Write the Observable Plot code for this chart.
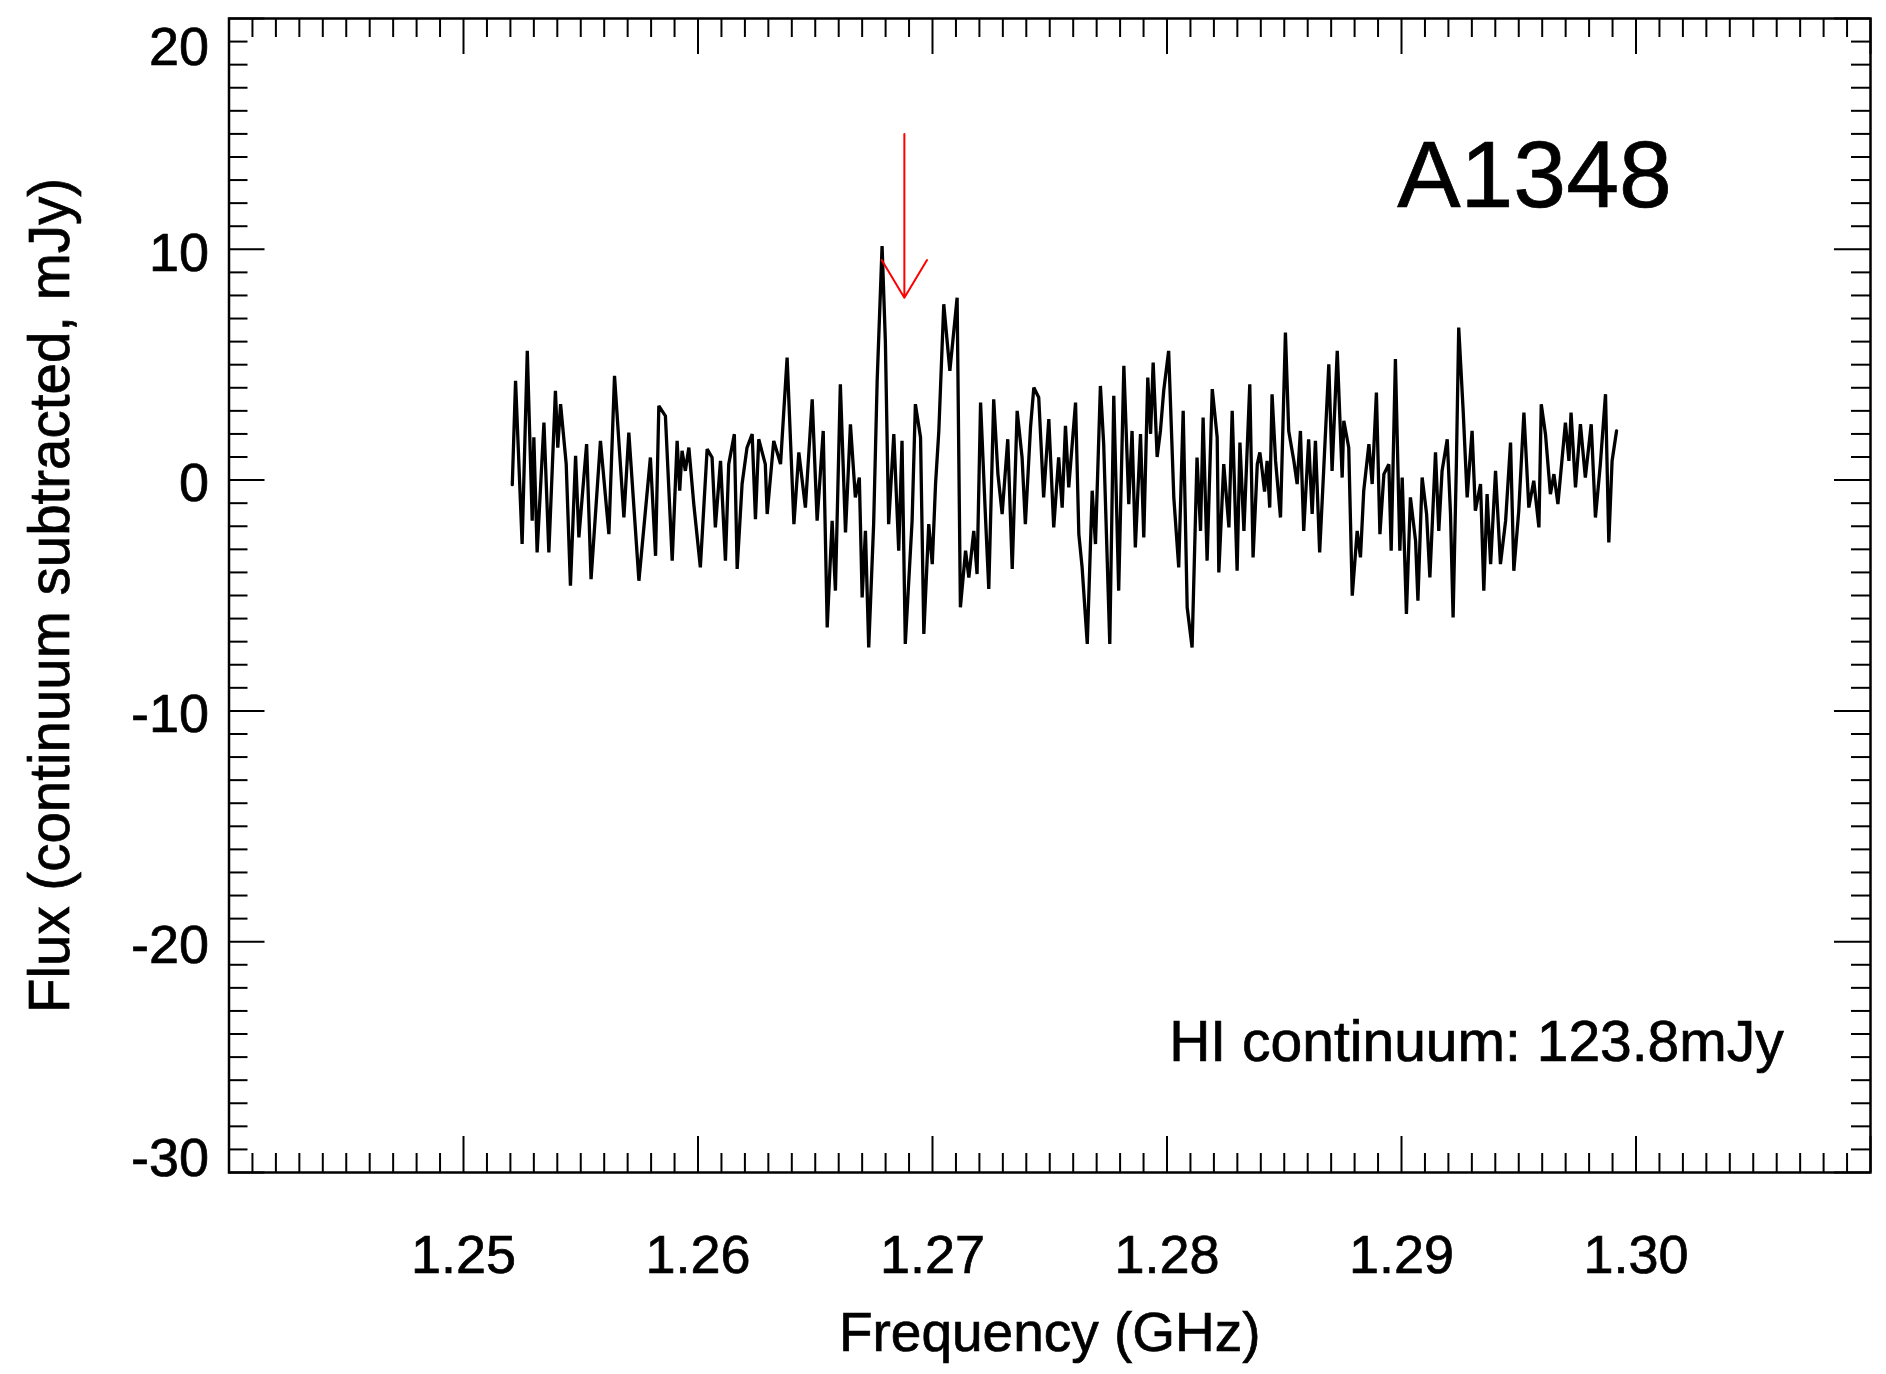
<!DOCTYPE html>
<html>
<head>
<meta charset="utf-8">
<script src="https://cdn.jsdelivr.net/npm/d3@7"></script>
<script src="https://cdn.jsdelivr.net/npm/@observablehq/plot@0.6"></script>
<style>
  html, body { margin: 0; padding: 0; background: #fff; }
  #chart svg text { stroke: #000; stroke-width: 0.7px; }
</style>
</head>
<body>
<div id="chart"></div>
<script>
// ---- data ----
const freq = [
  1.25208,1.25222,1.25250,1.25272,1.25293,1.25300,1.25314,1.25343,1.25364,1.25392,1.25402,1.25414,1.25438,1.25456,1.25478,1.25492,1.25525,1.25544,1.25584,1.25620,1.25644,1.25684,1.25705,1.25748,
  1.25797,1.25819,1.25833,1.25861,1.25890,1.25911,1.25922,1.25932,1.25946,1.25961,1.25982,1.26010,1.26039,1.26060,1.26074,1.26096,1.26117,1.26131,1.26155,1.26167,1.26188,1.26209,1.26231,1.26245,1.26259,1.26287,1.26295,1.26323,1.26344,
  1.26352,1.26380,1.26409,1.26430,1.26458,1.26487,1.26508,1.26534,1.26551,1.26572,1.26586,1.26607,1.26629,1.26650,1.26671,1.26688,1.26700,1.26714,1.26728,1.26749,1.26764,1.26785,1.26799,1.26813,1.26835,1.26856,1.26870,1.26884,1.26913,1.26927,
  1.26949,1.26963,1.26984,1.26999,1.27013,1.27027,1.27048,1.27074,1.27105,1.27119,1.27141,1.27155,1.27176,1.27190,1.27205,1.27226,1.27240,1.27261,1.27279,1.27297,1.27321,1.27340,1.27361,1.27382,1.27396,1.27418,1.27432,1.27453,1.27474,1.27496,1.27517,1.27538,
  1.27553,1.27567,1.27581,1.27610,1.27624,1.27638,1.27660,1.27681,1.27695,1.27716,1.27730,1.27756,1.27773,1.27794,1.27816,1.27837,1.27851,1.27865,1.27887,1.27901,1.27918,1.27930,1.27941,1.27958,1.27972,1.27986,1.28007,1.28029,1.28050,1.28069,1.28086,1.28107,1.28128,
  1.28143,1.28154,1.28171,1.28193,1.28214,1.28221,1.28242,1.28264,1.28278,1.28299,1.28311,1.28328,1.28353,1.28367,1.28385,1.28396,1.28406,1.28416,1.28427,1.28438,1.28448,1.28463,1.28484,1.28505,1.28519,1.28541,1.28555,1.28569,1.28583,1.28604,1.28619,1.28633,1.28651,1.28668,1.28690,1.28704,1.28726,
  1.28747,1.28754,1.28775,1.28790,1.28811,1.28825,1.28839,1.28861,1.28875,1.28893,1.28908,1.28925,1.28946,1.28956,1.28974,1.28993,1.29003,1.29021,1.29038,1.29060,1.29070,1.29088,1.29107,1.29121,1.29145,1.29159,1.29173,1.29195,1.29209,1.29220,1.29234,1.29244,1.29263,1.29280,1.29301,1.29315,
  1.29337,1.29351,1.29365,1.29380,1.29401,1.29422,1.29444,1.29465,1.29479,1.29500,1.29522,1.29543,1.29564,1.29586,1.29596,1.29614,1.29635,1.29650,1.29667,1.29699,1.29714,1.29723,1.29742,1.29763,1.29784,1.29809,1.29827,1.29848,1.29870,1.29884,1.29898,1.29917
];
const flux = [
  -0.20,4.30,-2.77,5.60,-1.76,1.85,-3.13,2.49,-3.13,3.87,1.41,3.29,0.69,-4.58,1.05,-2.48,1.56,-4.29,1.70,-2.34,4.52,-1.62,2.06,-4.36,
  0.98,-3.28,3.22,2.78,-3.49,1.70,-0.46,1.27,0.40,1.41,-1.04,-3.78,1.34,0.98,-2.05,0.83,-3.49,0.69,1.99,-3.85,-0.17,1.41,1.99,-1.69,1.77,0.69,-1.47,1.70,0.98,
  0.69,5.31,-1.91,1.20,-1.19,3.50,-1.76,2.13,-6.38,-1.76,-4.79,4.15,-2.27,2.42,-0.75,0.11,-5.08,-2.20,-7.25,-1.91,4.30,10.14,6.03,-1.91,1.99,-3.06,1.70,-7.10,-1.76,3.29,
  1.85,-6.67,-1.91,-3.64,-0.17,2.13,7.62,4.73,7.90,-5.51,-3.06,-4.22,-2.20,-4.07,3.36,-1.62,-4.72,3.50,0.26,-1.47,1.77,-3.85,3.00,0.98,-1.91,2.28,4.01,3.58,-0.75,2.64,-2.05,0.98,
  -1.19,2.35,-0.32,3.36,-2.34,-3.78,-7.10,-0.46,-2.77,4.08,1.56,-7.10,3.65,-4.79,4.95,-1.04,2.13,-2.92,1.99,-2.48,4.44,2.00,5.09,1.00,2.13,3.87,5.60,-0.75,-3.78,3.00,-5.51,-7.25,0.98,
  -2.20,2.71,-3.49,3.94,1.85,-4.00,0.69,-2.05,3.00,-3.93,1.63,-2.20,4.15,-3.35,0.69,1.20,0.40,-0.50,0.83,-1.19,3.72,0.83,-1.62,6.39,2.13,0.83,-0.17,2.13,-2.20,1.77,-1.47,1.70,-3.13,0.40,5.02,0.40,5.60,
  0.11,2.57,1.41,-5.01,-2.20,-3.35,-0.46,1.56,-0.17,3.79,-2.34,0.26,0.69,-3.06,5.24,-3.06,0.11,-5.80,-0.75,-2.63,-5.23,0.11,-1.47,-4.22,1.20,-2.20,0.40,1.77,-1.47,-5.95,0.69,6.61,3.00,-0.75,2.13,-1.33,
  -0.17,-4.79,-0.61,-3.64,0.40,-3.64,-1.76,1.63,-3.93,-1.33,2.93,-1.19,-0.03,-2.05,3.29,1.99,-0.61,0.26,-1.04,2.49,0.83,2.93,-0.32,2.42,0.11,2.42,-1.62,0.69,3.72,-2.70,0.83,2.13
];
const xDomain = [1.24, 1.31];
const yDomain = [-30, 20];
const xTickLabels = [1.25, 1.26, 1.27, 1.28, 1.29, 1.30];
const yTickLabels = [-20, -10, 0, 10];
const yTopLabel = [20];
const yBottomLabel = [-30];
const xTitle = "Frequency (GHz)";
const yTitle = "Flux (continuum subtracted, mJy)";
const sourceName = "A1348";
const continuumNote = "HI continuum: 123.8mJy";
const arrowFreq = [1.2688];
const arrowFrom = [15.0];
const arrowTo = [7.9];

// ---- build ----
const spectrum = freq.map((f, i) => ({freq: f, flux: flux[i]}));
const arrowData = arrowFreq.map((f, i) => ({x: f, y1: arrowFrom[i], y2: arrowTo[i]}));

const W = 1886, H = 1374;
const mL = 228.5, mR = 16, mT = 18, mB = 202;
const pw = W - mL - mR, ph = H - mT - mB;
const minorLen = 19, majorLen = 36;

const xAll = d3.range(0, 71).map(i => Math.round((1.24 + i * 0.001) * 1000) / 1000);
const xMajor = xAll.filter((d, i) => i % 10 === 0);
const xMinor = xAll.filter((d, i) => i % 10 !== 0);
const yAll = d3.range(-30, 21);
const yMajor = yAll.filter(d => d % 10 === 0);
const yMinor = yAll.filter(d => d % 10 !== 0);

const font = "'Liberation Sans', Arial, Helvetica, sans-serif";
const tickStyle = {stroke: "black", strokeWidth: 2};

const chart = Plot.plot({
  width: W,
  height: H,
  marginLeft: mL,
  marginRight: mR,
  marginTop: mT,
  marginBottom: mB,
  style: {fontFamily: font, fontSize: "54px", color: "black", background: "white"},
  x: {domain: xDomain},
  y: {domain: yDomain},
  marks: [
    // inward ticks on all four sides
    Plot.tickX(xMinor, {x: d => d, insetTop: ph - minorLen, ...tickStyle}),
    Plot.tickX(xMajor, {x: d => d, insetTop: ph - majorLen, ...tickStyle}),
    Plot.tickX(xMinor, {x: d => d, insetBottom: ph - minorLen, ...tickStyle}),
    Plot.tickX(xMajor, {x: d => d, insetBottom: ph - majorLen, ...tickStyle}),
    Plot.tickY(yMinor, {y: d => d, insetRight: pw - minorLen, ...tickStyle}),
    Plot.tickY(yMajor, {y: d => d, insetRight: pw - majorLen, ...tickStyle}),
    Plot.tickY(yMinor, {y: d => d, insetLeft: pw - minorLen, ...tickStyle}),
    Plot.tickY(yMajor, {y: d => d, insetLeft: pw - majorLen, ...tickStyle}),
    // spectrum
    Plot.line(spectrum, {x: "freq", y: "flux", stroke: "black", strokeWidth: 3.3, strokeLinejoin: "miter", strokeMiterlimit: 3}),
    // arrow
    Plot.arrow(arrowData, {x1: "x", x2: "x", y1: "y1", y2: "y2", stroke: "#ff0000", strokeWidth: 2, headLength: 33, headAngle: 62}),
    Plot.frame({stroke: "black", strokeWidth: 2.5}),
    // tick labels
    Plot.axisX(xTickLabels, {anchor: "bottom", tickSize: 0, tickPadding: 62, tickFormat: d3.format(".2f"), label: null, fontSize: 54}),
    Plot.axisY(yTickLabels, {anchor: "left", tickSize: 0, tickPadding: 20, dy: 4, tickFormat: d => String(d), label: null, fontSize: 54}),
    Plot.axisY(yTopLabel, {anchor: "left", tickSize: 0, tickPadding: 20, dy: 29, tickFormat: d => String(d), label: null, fontSize: 54}),
    Plot.axisY(yBottomLabel, {anchor: "left", tickSize: 0, tickPadding: 20, dy: -14, tickFormat: d => String(d), label: null, fontSize: 54}),
    // titles and annotations
    Plot.text([xTitle], {text: d => d, frameAnchor: "bottom", textAnchor: "middle", lineAnchor: "middle", dy: 161, fontSize: 55}),
    Plot.text([yTitle], {text: d => d, frameAnchor: "left", rotate: -90, textAnchor: "middle", lineAnchor: "middle", dx: -178, fontSize: 56.5}),
    Plot.text([sourceName], {text: d => d, frameAnchor: "top-right", textAnchor: "middle", lineAnchor: "middle", dx: -336, dy: 158, fontSize: 95}),
    Plot.text([continuumNote], {text: d => d, frameAnchor: "bottom-right", textAnchor: "middle", lineAnchor: "middle", dx: -394, dy: -130, fontSize: 57})
  ]
});

document.getElementById("chart").appendChild(chart);
</script>
</body>
</html>
